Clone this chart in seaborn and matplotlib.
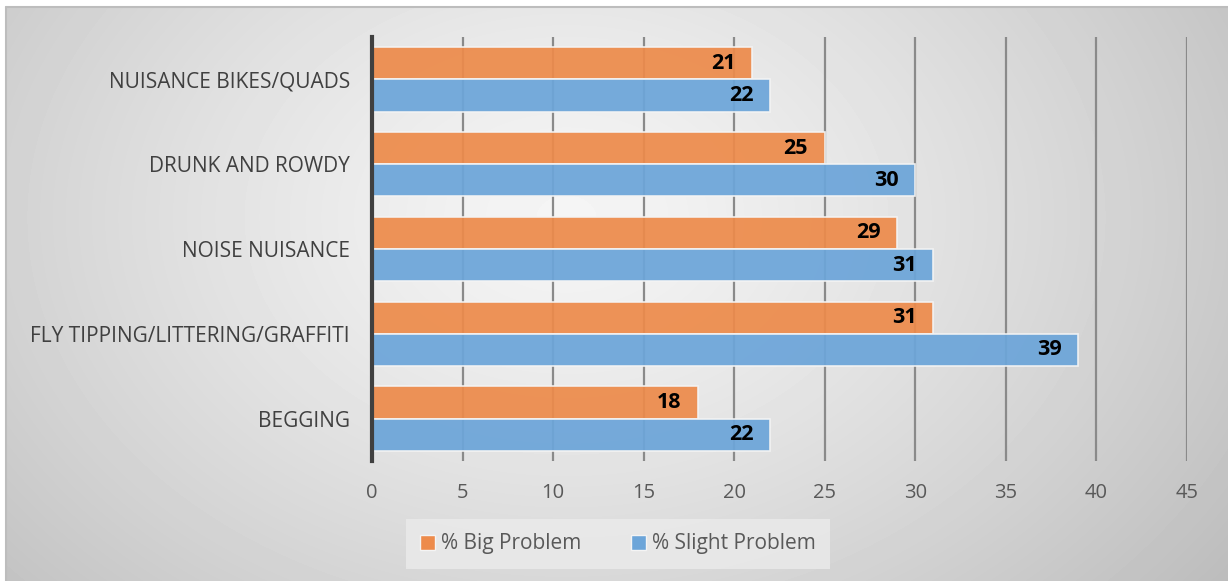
import numpy as np
import pandas as pd
import matplotlib
matplotlib.use("Agg")
import matplotlib.pyplot as plt
import seaborn as sns

# Survey results: share of respondents rating each issue as a problem
categories = ["NUISANCE BIKES/QUADS", "DRUNK AND ROWDY", "NOISE NUISANCE",
              "FLY TIPPING/LITTERING/GRAFFITI", "BEGGING"]
big_problem = [21, 25, 29, 31, 18]
slight_problem = [22, 30, 31, 39, 22]
series_names = ["% Big Problem", "% Slight Problem"]
x_ticks = [0, 5, 10, 15, 20, 25, 30, 35, 40, 45]

df = pd.DataFrame({
    "category": categories * 2,
    "value": big_problem + slight_problem,
    "series": [series_names[0]] * len(categories) + [series_names[1]] * len(categories),
})

sns.set_style("white")
plt.rcParams["font.family"] = ["Open Sans", "DejaVu Sans"]

W, H = 1228, 581
fig = plt.figure(figsize=(W / 100, H / 100), dpi=100)
fig.patch.set_facecolor("white")

# Chart area with a soft radial gradient
bg = fig.add_axes([6 / W, 0, 1 - 6 / W, 1 - 7 / H])
yy, xx = np.mgrid[0:574, 0:1222]
cx, cy = 560, 210
r = np.sqrt(((xx - cx) / 760.0) ** 2 + ((yy - cy) / 560.0) ** 2)
shade = 0.96 - 0.2 * np.clip(r, 0, 1.2) ** 1.3
bg.imshow(shade, cmap="gray", vmin=0, vmax=1, aspect="auto",
          extent=[0, 1, 0, 1], origin="upper", interpolation="bilinear")
bg.set_axis_off()
fig.add_artist(plt.Line2D([6 / W, 1], [1 - 7 / H, 1 - 7 / H], color="#bdbdbd", lw=1.5,
                          transform=fig.transFigure))
fig.add_artist(plt.Line2D([6 / W, 6 / W], [0, 1 - 7 / H], color="#bdbdbd", lw=1.5,
                          transform=fig.transFigure))

left, right, top, bottom = 372, 1187, 37, 461
ax = fig.add_axes([left / W, 1 - bottom / H, (right - left) / W, (bottom - top) / H])
ax.set_facecolor("none")

palette = {series_names[0]: "#ED8B4B", series_names[1]: "#6CA5D9"}
sns.barplot(data=df, y="category", x="value", hue="series", orient="h",
            palette=palette, width=0.76, saturation=1, alpha=0.93,
            edgecolor="#f4f4f4", linewidth=1.2, ax=ax, legend=True, zorder=3)

ax.set_xlim(0, 45)
ax.set_xticks(x_ticks)
ax.set_xlabel("")
ax.set_ylabel("")
ax.grid(axis="x", color="#8a8a8a", linewidth=1.6, zorder=1)
ax.grid(axis="y", visible=False)
ax.set_axisbelow(True)
for side in ["top", "right", "bottom"]:
    ax.spines[side].set_visible(False)
ax.spines["left"].set_color("#404040")
ax.spines["left"].set_linewidth(3)
ax.spines["left"].set_zorder(5)
ax.tick_params(axis="both", length=0)
ax.tick_params(axis="x", pad=16, labelsize=14.5, labelcolor="#595959")
ax.tick_params(axis="y", pad=16, labelsize=15, labelcolor="#404040")

# Value labels just inside the end of each bar
for container, vals in zip(ax.containers, [big_problem, slight_problem]):
    for patch, v in zip(container, vals):
        ax.annotate(f"{v}", (v, patch.get_y() + patch.get_height() / 2),
                    xytext=(-12, 0), textcoords="offset points",
                    ha="right", va="center", fontsize=15.5, fontweight="bold",
                    color="black", zorder=6)

ax.legend_.remove()
handles = [plt.Rectangle((0, 0), 1, 1, facecolor=palette[n], edgecolor="#f4f4f4", lw=1)
           for n in series_names]
leg = fig.legend(handles, series_names, loc="center", bbox_to_anchor=(618 / W, 1 - 544 / H),
                 ncol=2, frameon=True, fancybox=False, fontsize=15,
                 handlelength=0.7, handleheight=0.7, handletextpad=0.3,
                 columnspacing=2.4, borderpad=0.7, borderaxespad=0)
leg.get_frame().set_facecolor("#ebebeb")
leg.get_frame().set_edgecolor("none")
for t in leg.get_texts():
    t.set_color("#595959")

fig.savefig("out.png", dpi=100)
